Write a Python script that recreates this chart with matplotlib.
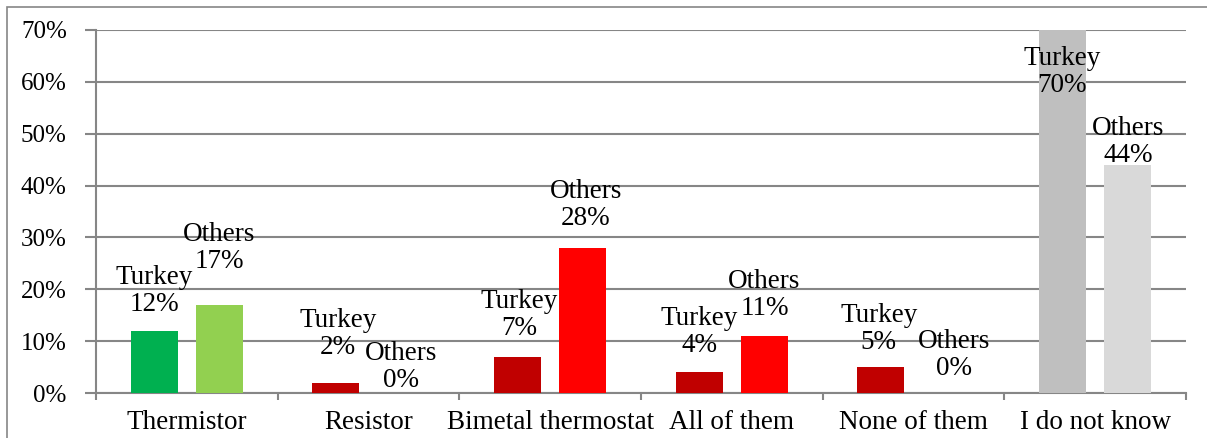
import numpy as np
import matplotlib.pyplot as plt
from matplotlib.patches import Rectangle

categories = ["Thermistor", "Resistor", "Bimetal thermostat", "All of them",
              "None of them", "I do not know"]
turkey = [12, 2, 7, 4, 5, 70]
others = [17, 0, 28, 11, 0, 44]
yticks = [0, 10, 20, 30, 40, 50, 60, 70]

turkey_colors = ["#00B050", "#C00000", "#C00000", "#C00000", "#C00000", "#BFBFBF"]
others_colors = ["#92D050", "#FF0000", "#FF0000", "#FF0000", "#FF0000", "#D9D9D9"]

# label offsets (pixels) from bar top centre, placed by hand like in Excel
turkey_offsets = [(0, 40), (2, 49), (2, 42), (0, 40), (-2, 38), (0, -42)]
others_offsets = [(0, 57), (0, 26), (3, 43), (0, 41), (8, 38), (0, 23)]

plt.rcParams["font.family"] = ["Liberation Serif", "DejaVu Serif"]
fs = 19.5
grid_col = "#868686"

fig = plt.figure(figsize=(12.07, 4.38), dpi=100)
ax = fig.add_axes([96 / 1207, 45 / 438, 1090 / 1207, 363 / 438])

x = np.arange(len(categories))
w = 0.26
off = 0.18
b1 = ax.bar(x - off, turkey, w, color=turkey_colors, zorder=3)
b2 = ax.bar(x + off, others, w, color=others_colors, zorder=3)

for bars, vals, name, offs in [(b1, turkey, "Turkey", turkey_offsets),
                               (b2, others, "Others", others_offsets)]:
    for bar, v, (dx, dy) in zip(bars, vals, offs):
        ax.annotate(f"{name}\n{v}%",
                    (bar.get_x() + bar.get_width() / 2, v),
                    xytext=(dx, dy), textcoords="offset pixels",
                    ha="center", va="center", fontsize=fs,
                    linespacing=1.1, zorder=5)

ax.set_xlim(-0.5, len(categories) - 0.5)
ax.set_ylim(0, 70)
ax.set_yticks(yticks)
ax.set_yticklabels([f"{t}%" for t in yticks], fontsize=18)
ax.set_xticks(x)
ax.set_xticklabels(categories, fontsize=fs)
ax.set_xticks(np.arange(-0.5, len(categories)), minor=True)
ax.tick_params(axis="x", which="major", length=0, pad=12)
ax.tick_params(axis="x", which="minor", length=5, width=1.5, color=grid_col)
ax.tick_params(axis="y", length=8, width=1.5, color=grid_col, pad=13)
ax.yaxis.grid(True, color=grid_col, linewidth=1.5, zorder=0)
ax.set_axisbelow(True)
for s in ["top", "right"]:
    ax.spines[s].set_visible(False)
for s in ["left", "bottom"]:
    ax.spines[s].set_color(grid_col)
    ax.spines[s].set_linewidth(1.5)

fig.patches.append(Rectangle((7 / 1207, -0.1), 1.2, (431 / 438) + 0.1,
                             transform=fig.transFigure, fill=False,
                             edgecolor=grid_col, linewidth=1.2))

fig.savefig("out.png", dpi=100)
